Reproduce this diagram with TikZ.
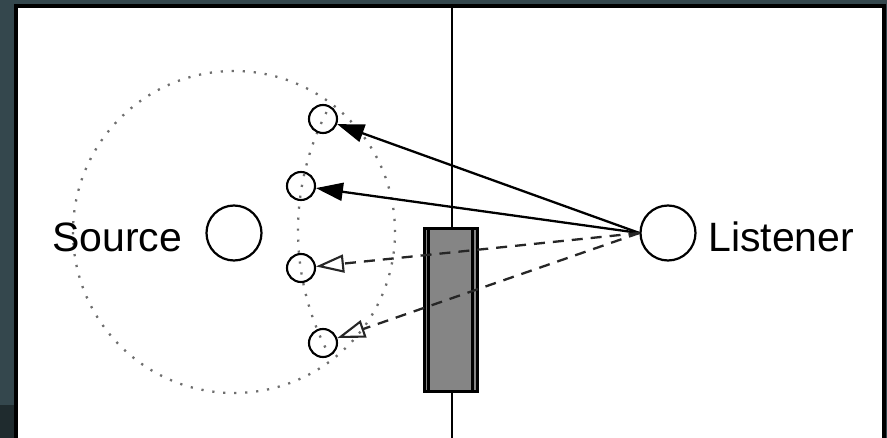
\documentclass[tikz,border=0pt]{standalone}
\usepackage{fontspec}
\setmainfont{Liberation Sans}
\usetikzlibrary{arrows.meta}
\definecolor{bgdark}{HTML}{34474D}
\definecolor{bgdarker}{HTML}{1F2B2E}
\definecolor{wallgray}{HTML}{858585}
\definecolor{dotgray}{HTML}{6E6E6E}
\tikzset{
  bigcirc/.style={circle,draw=black,line width=2.2pt,minimum size=55pt,inner sep=0pt},
  imgcirc/.style={circle,draw=black,line width=2.1pt,minimum size=28pt,inner sep=0pt},
  lbl/.style={inner sep=0pt,font=\fontsize{41}{41}\selectfont},
  dotline/.style={draw=dotgray,line width=2.3pt,dash pattern=on 2.2pt off 8.8pt},
  solidray/.style={draw=black,line width=2.3pt,-{Triangle[length=27pt,width=18pt]}},
  dashray/.style={draw=black!85,line width=2.3pt,dash pattern=on 11pt off 8pt,-{Triangle[open,length=28pt,width=18pt,line width=2.1pt]}},
}
\begin{document}
\begin{tikzpicture}[x=1pt,y=-1pt]
\useasboundingbox (0,0) rectangle (887,438);
% background and panel
\fill[bgdark] (0,0) rectangle (887,438);
\fill[bgdarker] (0,405) rectangle (14,438);
\fill[black] (14,4) rectangle (886,438);
\fill[white] (18,8) rectangle (882,438);
% wall line
\coordinate (wtop) at (452,8);
\coordinate (wbot) at (452,438);
\draw[line width=2.4pt] (wtop) -- (wbot);
% dotted circles
\draw[dotline] (234,232) circle[radius=161pt];
\draw[dotline] plot[domain=-27:27,samples=80] ({560-262*cos(\x)},{231+262*sin(\x)});
% wall block
\node[draw=black,fill=wallgray,line width=3pt,minimum width=53pt,minimum height=163pt,inner sep=0pt] (wall) at (450.5,310.5) {};
\draw[line width=2.2pt] ([xshift=6pt]wall.north west) -- ([xshift=6pt]wall.south west);
\draw[line width=2.2pt] ([xshift=-6pt]wall.north east) -- ([xshift=-6pt]wall.south east);
% nodes
\node[bigcirc] (S) at (234,233) {};
\node[bigcirc] (L) at (668,233) {};
\node[lbl,anchor=base west] (St) at (52,252) {Source};
\node[lbl,anchor=base west] (Lt) at (708,252) {Listener};
\node[imgcirc] (c1) at (323,119) {};
\node[imgcirc] (c2) at (301,186) {};
\node[imgcirc] (c3) at (301,268) {};
\node[imgcirc] (c4) at (323,343) {};
% rays
\draw[solidray] (L.west) -- (c1);
\draw[solidray] (L.west) -- (c2);
\draw[dashray] (L.west) -- (c3);
\draw[dashray] (L.west) -- (c4);
\end{tikzpicture}
\end{document}
